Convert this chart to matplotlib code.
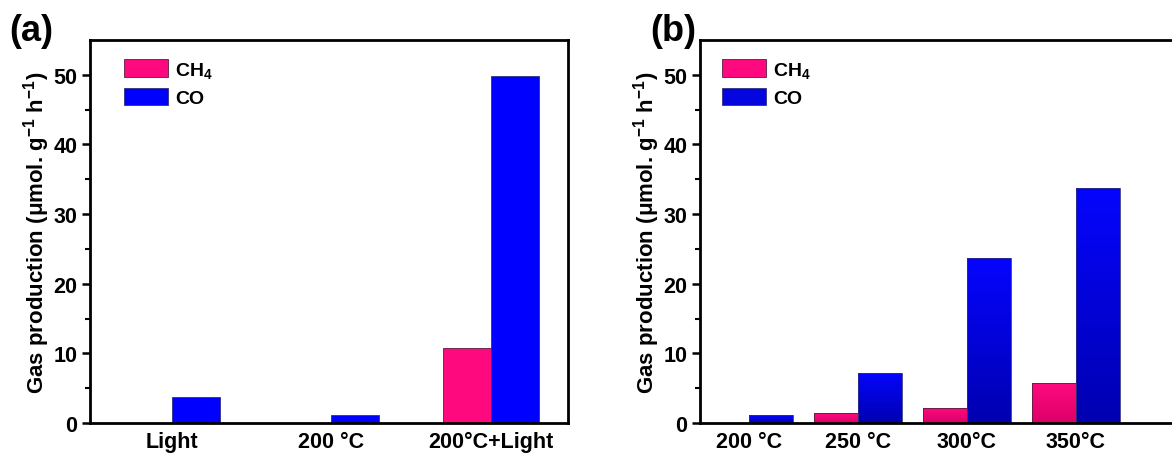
import numpy as np
import matplotlib
matplotlib.use("Agg")
import matplotlib.pyplot as plt
from matplotlib.colors import LinearSegmentedColormap
from matplotlib.patches import Patch

plt.rcParams['font.family'] = ['Liberation Sans', 'DejaVu Sans']
plt.rcParams['font.weight'] = 'bold'
plt.rcParams['mathtext.fontset'] = 'custom'
plt.rcParams['mathtext.rm'] = 'Liberation Sans:bold'
plt.rcParams['mathtext.it'] = 'Liberation Sans:bold'
plt.rcParams['mathtext.bf'] = 'Liberation Sans:bold'
plt.rcParams['mathtext.default'] = 'regular'

# ---- data ----
cats_a = ["Light", "200 °C", "200°C+Light"]
ch4_a = [0.0, 0.0, 10.8]
co_a = [3.8, 1.1, 49.8]

cats_b = ["200 °C", "250 °C", "300°C", "350°C"]
ch4_b = [0.0, 1.4, 2.2, 5.7]
co_b = [1.1, 7.2, 23.7, 33.8]

series_names = ["CH$_4$", "CO"]
PINK = "#ff0a7e"
BLUE = "#0000ff"
ylabel = "Gas production (μmol. g$^{-1}$ h$^{-1}$)"

W, H = 1172, 456
fig = plt.figure(figsize=(W / 100, H / 100), dpi=100)

ax_a = fig.add_axes([90 / W, 32 / H, (568 - 90) / W, (424 - 41) / H])
ax_b = fig.add_axes([700 / W, 32 / H, (1185 - 700) / W, (424 - 41) / H])


def style_axes(ax):
    for s in ax.spines.values():
        s.set_linewidth(2.0)
        s.set_color("black")
    ax.set_ylim(0, 55)
    ax.set_yticks([0, 10, 20, 30, 40, 50])
    ax.set_yticks([5, 15, 25, 35, 45], minor=True)
    ax.tick_params(axis='y', which='major', direction='out', length=6, width=1.8,
                   labelsize=15.5, pad=3)
    ax.tick_params(axis='y', which='minor', direction='out', length=3.5, width=1.5)
    ax.tick_params(axis='x', which='both', length=0, labelsize=15.5, pad=6)
    ax.set_ylabel(ylabel, fontsize=16, fontweight='bold', labelpad=1)
    for lab in ax.get_xticklabels() + ax.get_yticklabels():
        lab.set_fontweight('bold')


def gradient_fill(ax, bars, top_color, bottom_color):
    cmap = LinearSegmentedColormap.from_list("g", [bottom_color, top_color])
    grad = np.linspace(0, 1, 256).reshape(-1, 1)
    for b in bars:
        h = b.get_height()
        if h <= 0:
            continue
        x0 = b.get_x()
        w = b.get_width()
        im = ax.imshow(grad, cmap=cmap, origin='lower', aspect='auto',
                       extent=[x0, x0 + w, 0, h], zorder=b.get_zorder() - 0.01,
                       interpolation='bicubic')
        im.set_clip_path(b)
        b.set_facecolor('none')


# ---- panel (a) ----
xa = np.arange(1, len(cats_a) + 1)
wa = 0.30
bars_a1 = ax_a.bar(xa - wa, ch4_a, wa, align='edge', color=PINK,
                   edgecolor="#5a2040", linewidth=0.6, zorder=2)
bars_a2 = ax_a.bar(xa, co_a, wa, align='edge', color=BLUE,
                   edgecolor="#303080", linewidth=0.6, zorder=2)
ax_a.set_xlim(0.486, 3.483)
ax_a.set_xticks(xa)
ax_a.set_xticklabels(cats_a)
style_axes(ax_a)

# ---- panel (b) ----
xb = np.arange(1, len(cats_b) + 1)
wb = 0.40
bars_b1 = ax_b.bar(xb - wb, ch4_b, wb, align='edge', color=PINK,
                   edgecolor="#5a2040", linewidth=0.6, zorder=2)
bars_b2 = ax_b.bar(xb, co_b, wb, align='edge', color=BLUE,
                   edgecolor="#303080", linewidth=0.6, zorder=2)
gradient_fill(ax_b, bars_b1, "#ff0a80", "#dc0068")
gradient_fill(ax_b, bars_b2, "#0505ff", "#0000b0")
ax_b.set_xlim(0.55, 5.0)
ax_b.set_xticks(xb)
ax_b.set_xticklabels(cats_b)
style_axes(ax_b)

# legends
for ax, grad, anchor_x in ((ax_a, False, 0.043), (ax_b, True, 0.017)):
    handles = [Patch(facecolor=PINK, edgecolor="#5a2040", linewidth=0.6),
               Patch(facecolor=BLUE if not grad else "#0505e0", edgecolor="#303080", linewidth=0.6)]
    ax.legend(handles, series_names, loc='upper left', frameon=False,
              handlelength=2.27, handleheight=1.03,
              handletextpad=0.35, labelspacing=0.4, borderaxespad=0.3,
              bbox_to_anchor=(anchor_x, 0.985),
              prop={'weight': 'bold', 'size': 14})

fig.text(9 / W, 1 - 41 / H, "(a)", fontsize=26, fontweight='bold', ha='left', va='baseline')
fig.text(650 / W, 1 - 41 / H, "(b)", fontsize=26, fontweight='bold', ha='left', va='baseline')

fig.savefig("out.png", dpi=100)
